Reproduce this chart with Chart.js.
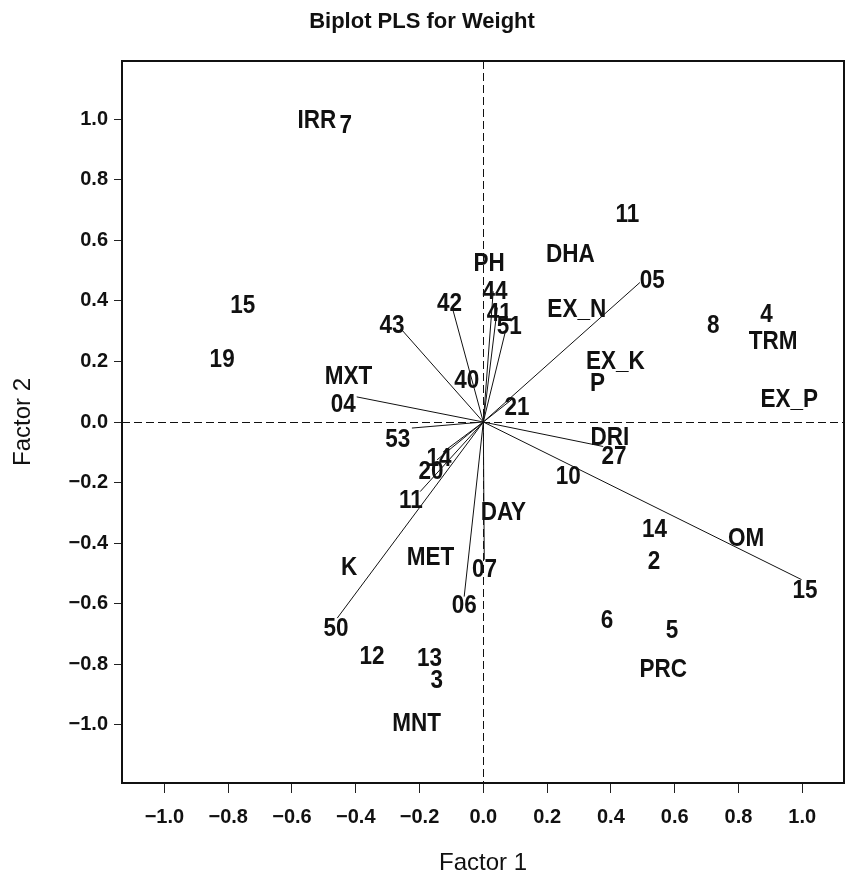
<!DOCTYPE html>
<html>
<head>
<meta charset="utf-8">
<script src="https://cdn.jsdelivr.net/npm/chart.js@4"></script>
<style>
html,body{margin:0;padding:0;background:#fff;}
#wrap{width:845px;height:875px;}
</style>
</head>
<body>
<div id="wrap"><canvas id="c" width="845" height="875"></canvas></div>
<script>
// ---- tick values and axis ranges ----
const xTickValues = [-1.0, -0.8, -0.6, -0.4, -0.2, 0.0, 0.2, 0.4, 0.6, 0.8, 1.0];
const yTickValues = [-1.0, -0.8, -0.6, -0.4, -0.2, 0.0, 0.2, 0.4, 0.6, 0.8, 1.0];
const xRange = [-1.133, 1.131];
const yRange = [-1.193, 1.193];

// ---- labelled points (text placed at these coordinates) ----
const labelNames = ["IRR","7","15","19","MXT","04","43","42","PH","44","41","51","40","21",
  "11","DHA","05","EX_N","8","4","TRM","EX_K","P","EX_P",
  "DRI","27","10","DAY","14","OM","2","07","15","06","6","5","PRC",
  "53","14","20","11","K","MET","50","12","13","3","MNT"];
const labelX = [-0.522,-0.431,-0.754,-0.819,-0.423,-0.439,-0.286,-0.106,0.018,0.037,0.050,0.081,-0.052,0.106,
  0.452,0.273,0.530,0.293,0.721,0.888,0.909,0.414,0.358,0.959,
  0.397,0.410,0.266,0.063,0.537,0.824,0.535,0.004,1.009,-0.060,0.388,0.592,0.564,
  -0.268,-0.139,-0.164,-0.227,-0.421,-0.166,-0.462,-0.349,-0.169,-0.146,-0.209];
const labelY = [1.000,0.985,0.391,0.212,0.156,0.064,0.324,0.396,0.528,0.435,0.363,0.319,0.142,0.054,
  0.689,0.557,0.473,0.375,0.324,0.360,0.269,0.203,0.132,0.079,
  -0.045,-0.111,-0.177,-0.293,-0.352,-0.381,-0.458,-0.483,-0.551,-0.601,-0.650,-0.683,-0.813,
  -0.054,-0.116,-0.158,-0.254,-0.477,-0.444,-0.678,-0.772,-0.778,-0.850,-0.991];

// ---- vectors drawn from the origin ----
const vectorNames = ["04","43","42","44","41","51","05","21","53","14","20","11","50","06","07","27","15"];
const vectorX = [-0.397,-0.256,-0.097,0.031,0.044,0.068,0.491,0.089,-0.224,-0.126,-0.145,-0.198,-0.458,-0.060,0.003,0.376,0.998];
const vectorY = [0.083,0.305,0.377,0.432,0.378,0.294,0.461,0.074,-0.020,-0.099,-0.125,-0.230,-0.648,-0.577,-0.455,-0.081,-0.521];

const FONT = '"Liberation Sans", Arial, Helvetica, sans-serif';
const fmt = v => (v < -1e-9 ? '\u2212' : '') + Math.abs(v).toFixed(1);

const vectorDatasets = vectorNames.map((n, i) => ({
  label: 'v' + n,
  data: [{x: 0, y: 0}, {x: vectorX[i], y: vectorY[i]}],
  showLine: true,
  borderColor: '#111',
  borderWidth: 1,
  pointRadius: 0,
  pointHoverRadius: 0,
  fill: false
}));
const labelDataset = {
  label: 'labels',
  data: labelX.map((x, i) => ({x: x, y: labelY[i]})),
  pointRadius: 0,
  pointHoverRadius: 0,
  showLine: false
};
const datasets = vectorDatasets.concat([labelDataset]);
const labelIndex = datasets.length - 1;

const refLines = {
  id: 'refLines',
  beforeDatasetsDraw(chart) {
    const {ctx, chartArea: a, scales} = chart;
    const x0 = Math.round(scales.x.getPixelForValue(0)) + 0.5;
    const y0 = Math.round(scales.y.getPixelForValue(0)) + 0.5;
    ctx.save();
    ctx.strokeStyle = '#111';
    ctx.lineWidth = 1;
    ctx.setLineDash([8, 4]);
    ctx.beginPath();
    ctx.moveTo(x0, a.top); ctx.lineTo(x0, a.bottom);
    ctx.moveTo(a.left, y0); ctx.lineTo(a.right, y0);
    ctx.stroke();
    ctx.restore();
  }
};
const labelText = {
  id: 'labelText',
  afterDatasetsDraw(chart) {
    const meta = chart.getDatasetMeta(labelIndex);
    const ctx = chart.ctx;
    ctx.save();
    ctx.font = 'bold 25px ' + FONT;
    ctx.fillStyle = '#111';
    ctx.textAlign = 'center';
    ctx.textBaseline = 'middle';
    meta.data.forEach((pt, i) => {
      ctx.save();
      ctx.translate(pt.x, pt.y + 2);
      ctx.scale(0.9, 1);
      ctx.fillText(labelNames[i], 0, 0);
      ctx.restore();
    });
    ctx.restore();
  }
};
const frame = {
  id: 'frame',
  afterDraw(chart) {
    const {ctx, chartArea: a} = chart;
    ctx.save();
    ctx.strokeStyle = '#111';
    ctx.lineWidth = 2;
    ctx.strokeRect(a.left, a.top, a.right - a.left, a.bottom - a.top);
    ctx.restore();
  }
};

new Chart(document.getElementById('c'), {
  type: 'scatter',
  data: {datasets: datasets},
  options: {
    responsive: false,
    animation: false,
    devicePixelRatio: 1,
    layout: {padding: {left: 0, right: 1, top: 0, bottom: 0}},
    plugins: {
      legend: {display: false},
      tooltip: {enabled: false},
      title: {
        display: true,
        text: 'Biplot PLS for Weight',
        color: '#111',
        font: {family: FONT, size: 22, weight: 'bold', lineHeight: 1.2},
        padding: {top: 8.5, bottom: 26.1}
      }
    },
    scales: {
      x: {
        type: 'linear',
        min: xRange[0], max: xRange[1],
        afterBuildTicks: s => { s.ticks = xTickValues.map(v => ({value: v})); },
        afterFit: s => { s.height = 92; },
        ticks: {
          callback: v => fmt(v),
          color: '#111',
          font: {family: FONT, size: 20, weight: 'bold', lineHeight: 1.2},
          padding: 12, maxRotation: 0, autoSkip: false
        },
        grid: {drawOnChartArea: false, drawTicks: true, tickLength: 10, color: '#222', lineWidth: 1},
        border: {display: false},
        title: {
          display: true, text: 'Factor 1', color: '#111',
          font: {family: FONT, size: 24, lineHeight: 1},
          padding: {top: 0, bottom: 0}
        }
      },
      y: {
        type: 'linear',
        min: yRange[0], max: yRange[1],
        afterBuildTicks: s => { s.ticks = yTickValues.map(v => ({value: v})); },
        afterFit: s => { s.width = 122; },
        ticks: {
          callback: v => fmt(v),
          color: '#111',
          font: {family: FONT, size: 20, weight: 'bold', lineHeight: 1.2},
          padding: 6, autoSkip: false
        },
        grid: {drawOnChartArea: false, drawTicks: true, tickLength: 8, color: '#222', lineWidth: 1},
        border: {display: false},
        title: {
          display: true, text: 'Factor 2', color: '#111',
          font: {family: FONT, size: 24, lineHeight: 1},
          padding: {top: 11, bottom: 0}
        }
      }
    }
  },
  plugins: [refLines, labelText, frame]
});
</script>
</body>
</html>
